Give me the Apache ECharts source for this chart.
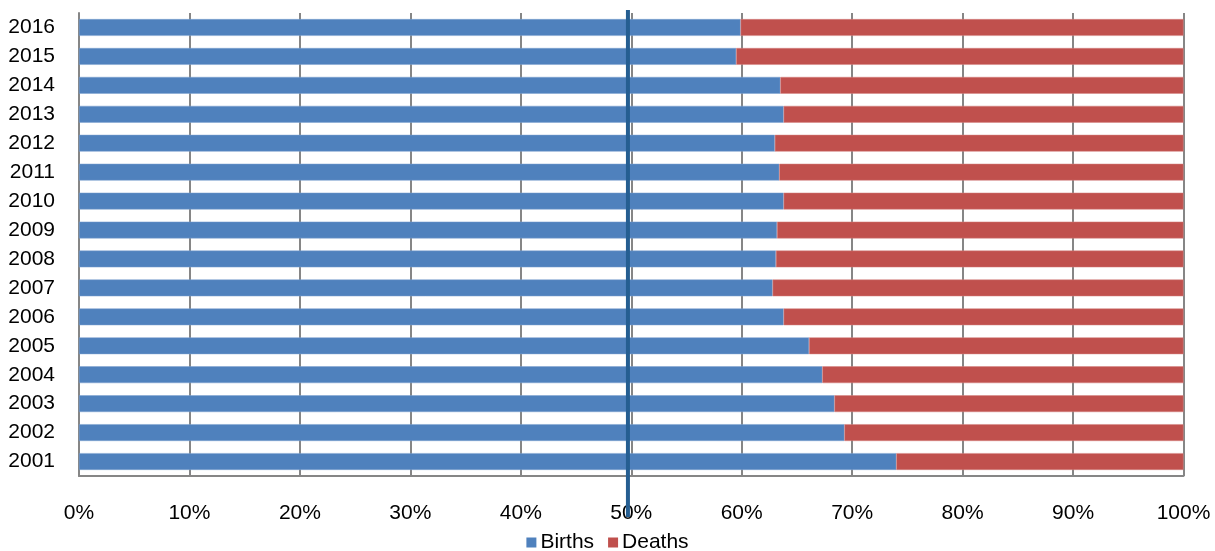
<!DOCTYPE html>
<html>
<head>
<meta charset="utf-8">
<script src="https://cdn.jsdelivr.net/npm/echarts@6/dist/echarts.min.js"></script>
<style>
  html, body { margin: 0; padding: 0; background: #ffffff; }
  #chart { width: 1215px; height: 551px; }
</style>
</head>
<body>
<div id="chart"></div>
<script>
// Share of births and deaths per year (percent of the yearly total)
const years = ['2001','2002','2003','2004','2005','2006','2007','2008',
               '2009','2010','2011','2012','2013','2014','2015','2016'];
const births = [74.0, 69.3, 68.4, 67.3, 66.1, 63.8, 62.8, 63.1,
                63.2, 63.8, 63.4, 63.0, 63.8, 63.5, 59.5, 59.9];
const deaths = [26.0, 30.7, 31.6, 32.7, 33.9, 36.2, 37.2, 36.9,
                36.8, 36.2, 36.6, 37.0, 36.2, 36.5, 40.5, 40.1];
const xTicks = [0, 10, 20, 30, 40, 50, 60, 70, 80, 90, 100];
const referenceShare = 49.7;   // parity marker

const chart = echarts.init(document.getElementById('chart'), null, { renderer: 'canvas' });
const font = "Arial, 'Liberation Sans', sans-serif";

chart.setOption({
  animation: false,
  backgroundColor: '#ffffff',
  grid: { left: 79, right: 31.5, top: 13, bottom: 75, containLabel: false },
  legend: {
    top: 532,
    left: 'center',
    padding: 0,
    itemWidth: 10,
    itemHeight: 10,
    itemGap: 14,
    icon: 'rect',
    itemStyle: { borderWidth: 0 },
    textStyle: { fontFamily: font, fontSize: 21, color: '#000', padding: [0, 0, 0, -1] },
    data: ['Births', 'Deaths']
  },
  xAxis: {
    type: 'value',
    min: xTicks[0],
    max: xTicks[xTicks.length - 1],
    interval: 10,
    axisLine: { show: true, lineStyle: { color: '#868686', width: 2 } },
    axisTick: { show: false },
    axisLabel: {
      margin: 27,
      fontFamily: font, fontSize: 21, color: '#000',
      formatter: v => v + '%'
    },
    splitLine: { show: true, lineStyle: { color: '#868686', width: 2 } }
  },
  yAxis: {
    type: 'category',
    data: years,
    axisLine: { show: true, lineStyle: { color: '#868686', width: 2 } },
    axisTick: { show: false },
    axisLabel: { margin: 24, fontFamily: font, fontSize: 21, color: '#000' }
  },
  series: [
    {
      name: 'Births', type: 'bar', stack: 'total',
      data: births,
      barCategoryGap: '42%',
      itemStyle: { color: '#4F81BD', borderColor: '#7EA2D0', borderWidth: 0.5 }
    },
    {
      name: 'Deaths', type: 'bar', stack: 'total',
      data: deaths,
      barCategoryGap: '42%',
      itemStyle: { color: '#C0504D', borderColor: '#D58583', borderWidth: 0.5 }
    }
  ]
});

// Vertical parity marker, placed through the x scale
const px = chart.convertToPixel({ gridIndex: 0 }, [referenceShare, 0])[0];
chart.setOption({
  graphic: [{
    type: 'line',
    z: 100,
    shape: { x1: px, y1: 10, x2: px, y2: 517 },
    style: { stroke: '#255E91', lineWidth: 4 }
  }]
});
</script>
</body>
</html>
